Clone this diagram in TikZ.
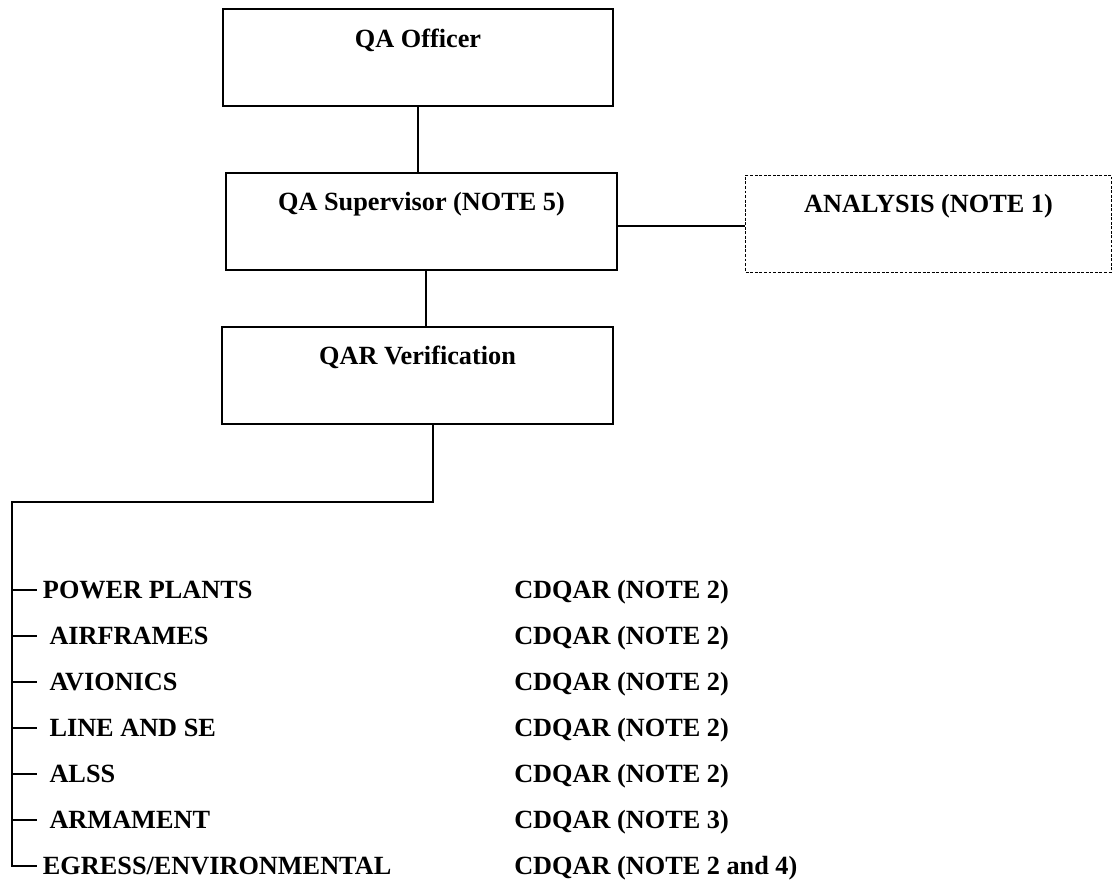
\documentclass[tikz,border=0pt]{standalone}
\usepackage{fontspec}
\setmainfont{Liberation Serif}
\usetikzlibrary{calc}

\tikzset{
	orgfont/.style={font=\fontsize{19.7}{24}\selectfont\bfseries},
	orgbox/.style={draw, orgfont, line width=1.5pt, inner sep=0pt, minimum width=293pt, text height=28.5pt, text depth=44.25pt},
	notebox/.style={orgbox, line width=0.7pt, dash pattern=on 2.2pt off 1.2pt, minimum width=274pt},
	unit/.style={orgfont, anchor=west, inner xsep=4.5pt, inner ysep=0pt, text height=13pt, text depth=0pt},
	rating/.style={orgfont, anchor=west, inner sep=0pt, text height=13pt, text depth=0pt},
	link/.style={line width=1.5pt}
}

\begin{document}
\begin{tikzpicture}[x=0.75pt, y=-0.75pt]
	\useasboundingbox (0,0) rectangle (1114,880);
	
	%boxes
	\node[orgbox]  (off) at (418,58)    {QA Officer};
	\node[orgbox]  (sup) at (421.5,221.5) {QA Supervisor (NOTE 5)};
	\node[orgbox]  (qar) at (417.5,375.5) {QAR Verification};
	\node[notebox] (ana) at (928.5,223.5) {ANALYSIS (NOTE 1)};
	
	%work centers
	\node[unit] (pp)  at (36.7,590) {POWER PLANTS};
	\node[unit] (af)  at (36.7,636) {\ AIRFRAMES};
	\node[unit] (av)  at (36.7,682) {\ AVIONICS};
	\node[unit] (lse) at (36.7,728) {\ LINE AND SE};
	\node[unit] (als) at (36.7,774) {\ ALSS};
	\node[unit] (arm) at (36.7,820) {\ ARMAMENT};
	\node[unit] (egr) at (36.7,866) {EGRESS/ENVIRONMENTAL};
	
	%cdqar column
	\node[rating] (cpp)  at (514,590) {CDQAR (NOTE 2)};
	\node[rating] (caf)  at (514,636) {CDQAR (NOTE 2)};
	\node[rating] (cav)  at (514,682) {CDQAR (NOTE 2)};
	\node[rating] (clse) at (514,728) {CDQAR (NOTE 2)};
	\node[rating] (cals) at (514,774) {CDQAR (NOTE 2)};
	\node[rating] (carm) at (514,820) {CDQAR (NOTE 3)};
	\node[rating] (cegr) at (514,866) {CDQAR (NOTE 2 and 4)};
	
	%connectors
	\draw[link] (off.south) -- (off.south |- sup.north);
	\draw[link] ([yshift=-3.75pt]sup.east) -- ([yshift=-3.75pt]sup.east -| ana.west);
	\draw[link] ([xshift=3pt]sup.south) -- ([xshift=3pt]sup.south |- qar.north);
	
	%branch to work centers
	\coordinate (bus) at (12,502);
	\draw[link] ([xshift=11.25pt]qar.south) |- (bus) |- (egr.west);
	\draw[link] (bus |- pp.west)  -- (pp.west);
	\draw[link] (bus |- af.west)  -- (af.west);
	\draw[link] (bus |- av.west)  -- (av.west);
	\draw[link] (bus |- lse.west) -- (lse.west);
	\draw[link] (bus |- als.west) -- (als.west);
	\draw[link] (bus |- arm.west) -- (arm.west);
	
\end{tikzpicture}
\end{document}
